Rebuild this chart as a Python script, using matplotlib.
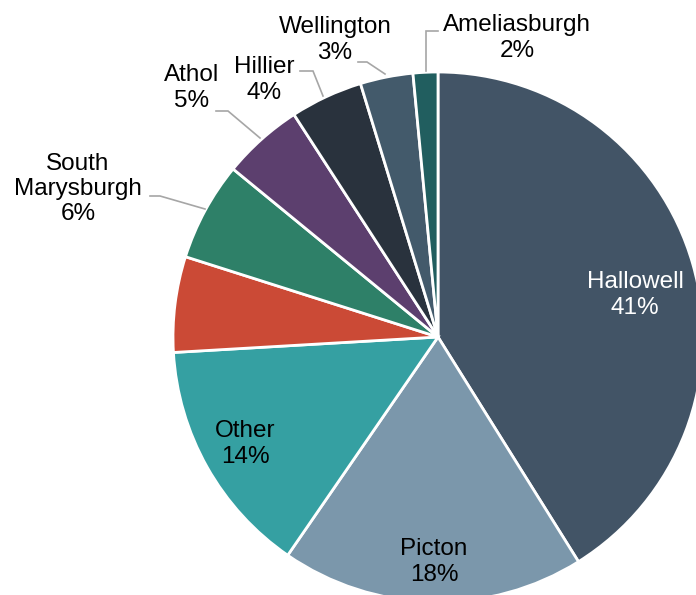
import matplotlib.pyplot as plt
import numpy as np

plt.rcParams['font.family'] = ['Liberation Sans', 'DejaVu Sans']

# share of each area, clockwise from 12 o'clock
areas = ['Hallowell', 'Picton', 'Other', '', 'South\nMarysburgh', 'Athol',
         'Hillier', 'Wellington', 'Ameliasburgh']
shares = [40.9, 18.4, 14.4, 5.8, 6.0, 4.9, 4.4, 3.2, 1.5]
colors = ['#425466', '#7B97AB', '#35A0A2', '#CB4A36', '#2E8068', '#5C3F6E',
          '#29323D', '#435A6B', '#215E5F']

W, H = 696, 595
CX, CY, R = 438, 337, 265  # pie centre and radius in pixels


def to_data(px, py):
    return (px - CX) / R, (CY - py) / R


fig = plt.figure(figsize=(W / 100, H / 100), dpi=100)
ax = fig.add_axes([0, 0, 1, 1])
ax.pie(shares, colors=colors, startangle=90, counterclock=False, radius=1,
       wedgeprops=dict(edgecolor='white', linewidth=2))
ax.set_xlim(-CX / R, (W - CX) / R)
ax.set_ylim(-(H - CY) / R, CY / R)
ax.set_aspect('auto')
ax.axis('off')

# label placement (pixel coords of text centre) and leader line paths
inside = {'Hallowell': (635, 295, 'white'), 'Picton': (434, 562, 'black'),
          'Other': (245, 444, 'black')}
outside = {
    'South\nMarysburgh': ((78, 189), [(150, 196), (160, 196), (205, 209)]),
    'Athol': ((192, 88), [(216, 111), (228, 111), (260, 138)]),
    'Hillier': ((264, 80), [(300, 71), (313, 71), (323, 96)]),
    'Wellington': ((335, 40), [(358, 62), (367, 62), (385, 74)]),
    'Ameliasburgh': ((517, 38), [(438, 31), (426, 31), (426, 71)]),
}

total = sum(shares)
for name, share in zip(areas, shares):
    if not name:
        continue
    label = f"{name}\n{round(100 * share / total):.0f}%"
    if name in inside:
        px, py, c = inside[name]
        ax.text(*to_data(px, py), label, ha='center', va='center',
                fontsize=17.5, color=c, linespacing=1.2)
    else:
        (px, py), path = outside[name]
        ax.text(*to_data(px, py), label, ha='center', va='center',
                fontsize=17.5, color='black', linespacing=1.2)
        pts = np.array([to_data(x, y) for x, y in path])
        ax.plot(pts[:, 0], pts[:, 1], color='#A6A6A6', lw=1.2,
                solid_joinstyle='miter')

fig.savefig('out.png', dpi=100)
